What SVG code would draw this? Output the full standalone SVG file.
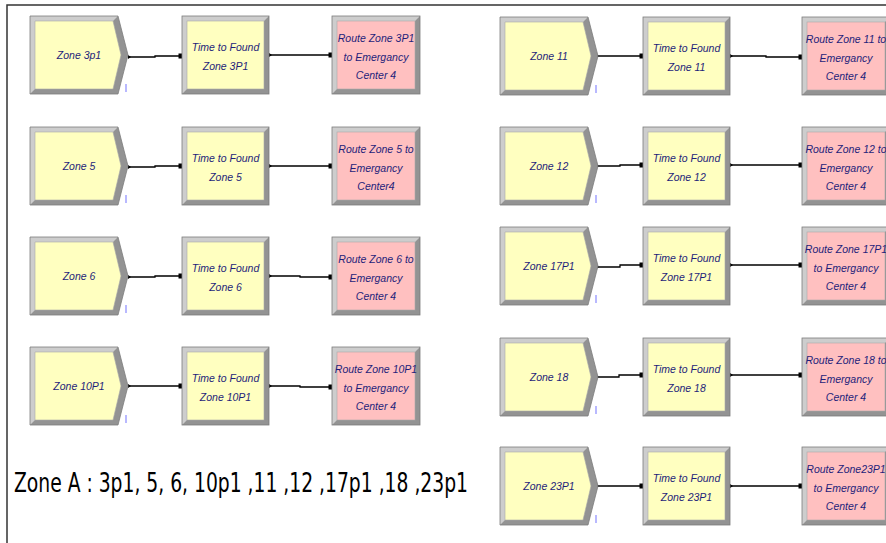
<svg xmlns="http://www.w3.org/2000/svg" width="886" height="543" viewBox="0 0 886 543">
<defs>
<style>
.dk{fill:#939393}
.lt{fill:#cdcdcd}
.fy{fill:#ffffc0;stroke:#a8a8a8;stroke-width:0.6}
.fp{fill:#ffc0c0;stroke:#a8a8a8;stroke-width:0.6}
.ol{fill:none;stroke:#7c7c7c;stroke-width:0.8}
.t{font-family:"Liberation Sans",Arial,sans-serif;font-style:italic;font-size:10.5px;fill:#1e1e7a;text-anchor:middle}
.mk{stroke:#8a8aff;stroke-width:1.2}
.cn{fill:none;stroke:#000;stroke-width:1.3;marker-start:url(#ms);marker-end:url(#me)}
</style>
<marker id="me" markerUnits="userSpaceOnUse" markerWidth="6" markerHeight="6" refX="3" refY="3" orient="auto"><rect x="0.5" y="0.5" width="4" height="5" fill="#000"/></marker>
<marker id="ms" markerUnits="userSpaceOnUse" markerWidth="6" markerHeight="6" refX="1" refY="3" orient="auto"><path d="M0,1 L3,3 L0,5 Z" fill="#000"/></marker>
<g id="cr">
<polygon class="dk" points="0,0 88,0 98,39 88,78 0,78"/>
<polygon class="lt" points="0,0 88,0 83,5 5,5 5,73 0,78"/>
<polygon class="fy" points="5,5 83,5 91,39 83,73 5,73"/>
<polygon class="ol" points="0,0 88,0 98,39 88,78 0,78"/>
<line class="mk" x1="96" y1="68" x2="96" y2="76"/>
</g>
<g id="pr">
<rect class="dk" x="0" y="0" width="87" height="78"/>
<polygon class="lt" points="0,0 87,0 82,5 5,5 5,73 0,78"/>
<rect class="fy" x="5" y="5" width="77" height="68"/>
<rect class="ol" x="0" y="0" width="87" height="78"/>
</g>
<g id="rt">
<rect class="dk" x="0" y="0" width="88" height="78"/>
<polygon class="lt" points="0,0 88,0 83,5 5,5 5,73 0,78"/>
<rect class="fp" x="5" y="5" width="78" height="68"/>
<rect class="ol" x="0" y="0" width="88" height="78"/>
</g>
</defs>
<rect x="0" y="0" width="886" height="543" fill="#fff"/>
<path d="M7,543 V5 H886" fill="none" stroke="#333" stroke-width="1.5"/>

<g id="connectors">
<polyline class="cn" points="129,57 155,57 155,56 181,56"/>
<polyline class="cn" points="270,55 331,55"/>
<polyline class="cn" points="129,167 155,167 155,166 181,166"/>
<polyline class="cn" points="270,166 331,166"/>
<polyline class="cn" points="129,277 155,277 155,276 181,276"/>
<polyline class="cn" points="270,276 300,276 300,277 331,277"/>
<polyline class="cn" points="129,386 181,386"/>
<polyline class="cn" points="270,386 300,386 300,387 331,387"/>
<polyline class="cn" points="597,56 642,56"/>
<polyline class="cn" points="731,56 766,56 766,57 801,57"/>
<polyline class="cn" points="597,166 620,166 620,165 642,165"/>
<polyline class="cn" points="731,165 801,165"/>
<polyline class="cn" points="597,267 620,267 620,265 642,265"/>
<polyline class="cn" points="731,265 801,265"/>
<polyline class="cn" points="597,377 619,377 619,375 642,375"/>
<polyline class="cn" points="731,375 801,375"/>
<polyline class="cn" points="597,486 642,486"/>
<polyline class="cn" points="731,486 801,486"/>
</g>

<g id="zone3p1" transform="translate(30,16)"><use href="#cr"/><text class="t" x="49" y="43">Zone 3p1</text></g>
<g id="time3p1" transform="translate(182,16)"><use href="#pr"/><text class="t" x="43.5" y="35">Time to Found</text><text class="t" x="43.5" y="54">Zone 3P1</text></g>
<g id="route3p1" transform="translate(332,16)"><use href="#rt"/><text class="t" x="44" y="26">Route Zone 3P1</text><text class="t" x="44" y="45">to Emergancy</text><text class="t" x="44" y="63">Center 4</text></g>

<g id="zone5" transform="translate(30,127)"><use href="#cr"/><text class="t" x="49" y="43">Zone 5</text></g>
<g id="time5" transform="translate(182,127)"><use href="#pr"/><text class="t" x="43.5" y="35">Time to Found</text><text class="t" x="43.5" y="54">Zone 5</text></g>
<g id="route5" transform="translate(332,127)"><use href="#rt"/><text class="t" x="44" y="26">Route Zone 5 to</text><text class="t" x="44" y="45">Emergancy</text><text class="t" x="44" y="63">Center4</text></g>

<g id="zone6" transform="translate(30,237)"><use href="#cr"/><text class="t" x="49" y="43">Zone 6</text></g>
<g id="time6" transform="translate(182,237)"><use href="#pr"/><text class="t" x="43.5" y="35">Time to Found</text><text class="t" x="43.5" y="54">Zone 6</text></g>
<g id="route6" transform="translate(332,237)"><use href="#rt"/><text class="t" x="44" y="26">Route Zone 6 to</text><text class="t" x="44" y="45">Emergancy</text><text class="t" x="44" y="63">Center 4</text></g>

<g id="zone10p1" transform="translate(30,347)"><use href="#cr"/><text class="t" x="49" y="43">Zone 10P1</text></g>
<g id="time10p1" transform="translate(182,347)"><use href="#pr"/><text class="t" x="43.5" y="35">Time to Found</text><text class="t" x="43.5" y="54">Zone 10P1</text></g>
<g id="route10p1" transform="translate(332,347)"><use href="#rt"/><text class="t" x="44" y="26">Route Zone 10P1</text><text class="t" x="44" y="45">to Emergancy</text><text class="t" x="44" y="63">Center 4</text></g>

<g id="zone11" transform="translate(500,17)"><use href="#cr"/><text class="t" x="49" y="43">Zone 11</text></g>
<g id="time11" transform="translate(643,17)"><use href="#pr"/><text class="t" x="43.5" y="35">Time to Found</text><text class="t" x="43.5" y="54">Zone 11</text></g>
<g id="route11" transform="translate(802,17)"><use href="#rt"/><text class="t" x="44" y="26">Route Zone 11 to</text><text class="t" x="44" y="45">Emergancy</text><text class="t" x="44" y="63">Center 4</text></g>

<g id="zone12" transform="translate(500,127)"><use href="#cr"/><text class="t" x="49" y="43">Zone 12</text></g>
<g id="time12" transform="translate(643,127)"><use href="#pr"/><text class="t" x="43.5" y="35">Time to Found</text><text class="t" x="43.5" y="54">Zone 12</text></g>
<g id="route12" transform="translate(802,127)"><use href="#rt"/><text class="t" x="44" y="26">Route Zone 12 to</text><text class="t" x="44" y="45">Emergancy</text><text class="t" x="44" y="63">Center 4</text></g>

<g id="zone17p1" transform="translate(500,227)"><use href="#cr"/><text class="t" x="49" y="43">Zone 17P1</text></g>
<g id="time17p1" transform="translate(643,227)"><use href="#pr"/><text class="t" x="43.5" y="35">Time to Found</text><text class="t" x="43.5" y="54">Zone 17P1</text></g>
<g id="route17p1" transform="translate(802,227)"><use href="#rt"/><text class="t" x="44" y="26">Route Zone 17P1</text><text class="t" x="44" y="45">to Emergancy</text><text class="t" x="44" y="63">Center 4</text></g>

<g id="zone18" transform="translate(500,338)"><use href="#cr"/><text class="t" x="49" y="43">Zone 18</text></g>
<g id="time18" transform="translate(643,338)"><use href="#pr"/><text class="t" x="43.5" y="35">Time to Found</text><text class="t" x="43.5" y="54">Zone 18</text></g>
<g id="route18" transform="translate(802,338)"><use href="#rt"/><text class="t" x="44" y="26">Route Zone 18 to</text><text class="t" x="44" y="45">Emergancy</text><text class="t" x="44" y="63">Center 4</text></g>

<g id="zone23p1" transform="translate(500,447)"><use href="#cr"/><text class="t" x="49" y="43">Zone 23P1</text></g>
<g id="time23p1" transform="translate(643,447)"><use href="#pr"/><text class="t" x="43.5" y="35">Time to Found</text><text class="t" x="43.5" y="54">Zone 23P1</text></g>
<g id="route23p1" transform="translate(802,447)"><use href="#rt"/><text class="t" x="44" y="26">Route Zone23P1</text><text class="t" x="44" y="45">to Emergancy</text><text class="t" x="44" y="63">Center 4</text></g>

<text transform="translate(14,492) scale(1,1.3)" x="0" y="0" font-family="'DejaVu Sans Condensed','Liberation Sans',sans-serif" font-size="20.8" fill="#000" textLength="454" lengthAdjust="spacingAndGlyphs">Zone A : 3p1, 5, 6, 10p1 ,11 ,12 ,17p1 ,18 ,23p1</text>
</svg>
